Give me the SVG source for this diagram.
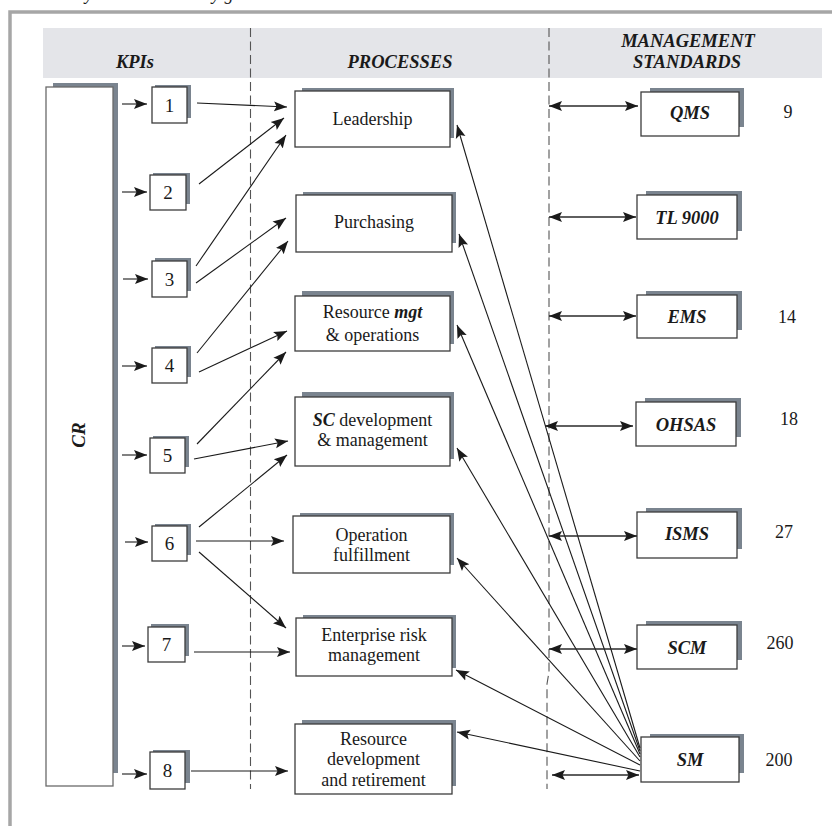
<svg xmlns="http://www.w3.org/2000/svg" width="832" height="826" viewBox="0 0 832 826">
  <style>
    .frame { fill: none; stroke: #a6a6a6; stroke-width: 3.5; }
    .band { fill: #e4e5e9; }
    .divider { fill: none; stroke: #555; stroke-width: 1.1; stroke-dasharray: 9 4.5; }
    .shadow { fill: #7a848f; }
    .box { fill: #fff; stroke: #3c3c3c; stroke-width: 1.3; }
    .crbox { fill: #fff; stroke: #6a6a6a; stroke-width: 1.3; }
    .hdr { font-family: "Liberation Serif", "Times New Roman", serif; font-size: 18.5px; font-weight: bold; font-style: italic; fill: #1a1a1a; text-anchor: middle; }
    .num { font-family: "Liberation Serif", "Times New Roman", serif; font-size: 19px; fill: #1a1a1a; text-anchor: middle; }
    .proc { font-family: "Liberation Serif", "Times New Roman", serif; font-size: 18px; fill: #1a1a1a; text-anchor: middle; }
    .std { font-family: "Liberation Serif", "Times New Roman", serif; font-size: 18.5px; font-weight: bold; font-style: italic; fill: #1a1a1a; text-anchor: middle; }
    .bi { font-weight: bold; font-style: italic; }
    .side { font-family: "Liberation Serif", "Times New Roman", serif; font-size: 18px; fill: #1a1a1a; text-anchor: middle; }
    .cap { font-family: "Liberation Serif", "Times New Roman", serif; font-size: 18px; font-style: italic; fill: #1a1a1a; }
    .link { fill: none; stroke: #1a1a1a; stroke-width: 1.1; marker-end: url(#ah); }
    .dbl { fill: none; stroke: #2a2a2a; stroke-width: 1.4; marker-start: url(#ah); marker-end: url(#ah); }
  </style>
  <defs>
    <marker id="ah" markerUnits="userSpaceOnUse" markerWidth="14" markerHeight="12" refX="13" refY="6" orient="auto-start-reverse">
      <path d="M0,1 L13,6 L0,11 L2.5,6 z" fill="#1a1a1a"/>
    </marker>
  </defs>

  <rect width="832" height="826" fill="#fff"/>
  <text class="cap" x="25" y="0">Summary: the model set by goals</text>
  <rect class="frame" x="10" y="12" width="840" height="840"/>

  <!-- column headings -->
  <g id="header">
    <rect class="band" x="43" y="28" width="779" height="50"/>
    <text class="hdr" x="135" y="68">KPIs</text>
    <text class="hdr" x="400" y="68">PROCESSES</text>
    <text class="hdr" x="688" y="47">MANAGEMENT</text>
    <text class="hdr" x="687" y="68">STANDARDS</text>
  </g>

  <g id="dividers">
    <path class="divider" d="M250.5,28 V789"/>
    <path class="divider" d="M549,28 V672 L547,684 V789"/>
  </g>

  <!-- corporate responsibility column -->
  <g id="cr">
    <rect class="shadow" x="53" y="83" width="65" height="690"/>
    <rect class="crbox" x="46" y="87" width="67" height="699"/>
    <text class="hdr" transform="translate(85,435) rotate(-90)" style="font-size:19px">CR</text>
  </g>

  <!-- KPI boxes -->
  <g id="kpi1"><rect class="shadow" x="155" y="85" width="36" height="33"/><rect class="box" x="152" y="87" width="35" height="36"/><text class="num" x="169.5" y="112">1</text></g>
  <g id="kpi2"><rect class="shadow" x="153" y="173" width="37" height="31"/><rect class="box" x="150" y="175" width="36" height="35"/><text class="num" x="168" y="199">2</text></g>
  <g id="kpi3"><rect class="shadow" x="155" y="258" width="36" height="33"/><rect class="box" x="152" y="261" width="35" height="36"/><text class="num" x="169.5" y="286">3</text></g>
  <g id="kpi4"><rect class="shadow" x="155" y="346" width="36" height="31"/><rect class="box" x="152" y="348" width="35" height="35"/><text class="num" x="169.5" y="372">4</text></g>
  <g id="kpi5"><rect class="shadow" x="153" y="436" width="36" height="31"/><rect class="box" x="150" y="438" width="35" height="35"/><text class="num" x="167.5" y="462">5</text></g>
  <g id="kpi6"><rect class="shadow" x="155" y="524" width="36" height="31"/><rect class="box" x="152" y="526" width="35" height="35"/><text class="num" x="169.5" y="550">6</text></g>
  <g id="kpi7"><rect class="shadow" x="151" y="624" width="38" height="32"/><rect class="box" x="148" y="627" width="37" height="35"/><text class="num" x="166.5" y="651">7</text></g>
  <g id="kpi8"><rect class="shadow" x="153" y="750" width="37" height="33"/><rect class="box" x="150" y="752" width="35" height="37"/><text class="num" x="167.5" y="777">8</text></g>

  <!-- process boxes -->
  <g id="leadership"><rect class="shadow" x="302" y="88" width="152" height="50"/><rect class="box" x="295" y="91" width="155" height="56"/><text class="proc" x="372.5" y="125">Leadership</text></g>
  <g id="purchasing"><rect class="shadow" x="303" y="192" width="153" height="51"/><rect class="box" x="296" y="195" width="156" height="57"/><text class="proc" x="374" y="228">Purchasing</text></g>
  <g id="resource-mgt"><rect class="shadow" x="302" y="291" width="152" height="53"/><rect class="box" x="295" y="296" width="155" height="55"/><text class="proc" x="372.5" y="318">Resource <tspan class="bi">mgt</tspan></text><text class="proc" x="372.5" y="341">&amp; operations</text></g>
  <g id="sc-dev"><rect class="shadow" x="302" y="392" width="152" height="67"/><rect class="box" x="295" y="397" width="155" height="69"/><text class="proc" x="372.5" y="426"><tspan class="bi">SC</tspan> development</text><text class="proc" x="372.5" y="446">&amp; management</text></g>
  <g id="operation"><rect class="shadow" x="300" y="513" width="154" height="52"/><rect class="box" x="293" y="516" width="157" height="57"/><text class="proc" x="371.5" y="541">Operation</text><text class="proc" x="371.5" y="561">fulfillment</text></g>
  <g id="enterprise-risk"><rect class="shadow" x="303" y="615" width="153" height="53"/><rect class="box" x="296" y="618" width="156" height="58"/><text class="proc" x="374" y="641">Enterprise risk</text><text class="proc" x="374" y="661">management</text></g>
  <g id="resource-dev"><rect class="shadow" x="302" y="720" width="154" height="66"/><rect class="box" x="295" y="724" width="157" height="70"/><text class="proc" x="373.5" y="745">Resource</text><text class="proc" x="373.5" y="765">development</text><text class="proc" x="373.5" y="786">and retirement</text></g>

  <!-- management standards -->
  <g id="qms"><rect class="shadow" x="650" y="88" width="94" height="39"/><rect class="box" x="641" y="92" width="98" height="44"/><text class="std" x="690" y="119">QMS</text><text class="side" x="788" y="118">9</text></g>
  <g id="tl9000"><rect class="shadow" x="646" y="191" width="96" height="40"/><rect class="box" x="637" y="195" width="100" height="44"/><text class="std" x="687" y="224">TL 9000</text></g>
  <g id="ems"><rect class="shadow" x="646" y="291" width="96" height="39"/><rect class="box" x="637" y="295" width="100" height="43"/><text class="std" x="687" y="323">EMS</text><text class="side" x="787" y="323">14</text></g>
  <g id="ohsas"><rect class="shadow" x="645" y="398" width="96" height="39"/><rect class="box" x="636" y="402" width="100" height="44"/><text class="std" x="686" y="431">OHSAS</text><text class="side" x="789" y="425">18</text></g>
  <g id="isms"><rect class="shadow" x="646" y="508" width="96" height="41"/><rect class="box" x="637" y="512" width="100" height="46"/><text class="std" x="687" y="540">ISMS</text><text class="side" x="784" y="538">27</text></g>
  <g id="scm"><rect class="shadow" x="646" y="621" width="96" height="39"/><rect class="box" x="637" y="625" width="100" height="44"/><text class="std" x="687" y="654">SCM</text><text class="side" x="780" y="649">260</text></g>
  <g id="sm"><rect class="shadow" x="650" y="734" width="94" height="39"/><rect class="box" x="641" y="737" width="98" height="45"/><text class="std" x="690" y="766">SM</text><text class="side" x="779" y="766">200</text></g>

  <g id="connectors">
    <!-- CR to KPIs -->
    <line class="link" x1="122" y1="104" x2="147" y2="104"/>
    <line class="link" x1="122" y1="192" x2="147" y2="192"/>
    <line class="link" x1="123" y1="279" x2="148" y2="279"/>
    <line class="link" x1="122" y1="366" x2="147" y2="366"/>
    <line class="link" x1="122" y1="455" x2="147" y2="455"/>
    <line class="link" x1="125" y1="542" x2="148" y2="542"/>
    <line class="link" x1="122" y1="646" x2="145" y2="646"/>
    <line class="link" x1="122" y1="774" x2="147" y2="774"/>

    <!-- KPIs to processes -->
    <line class="link" x1="197" y1="103" x2="287" y2="107"/>
    <line class="link" x1="199" y1="184" x2="284" y2="118"/>
    <line class="link" x1="196" y1="266" x2="286" y2="135"/>
    <line class="link" x1="196" y1="283" x2="286" y2="218"/>
    <line class="link" x1="197" y1="353" x2="288" y2="241"/>
    <line class="link" x1="199" y1="372" x2="287" y2="331"/>
    <line class="link" x1="197" y1="444" x2="286" y2="352"/>
    <line class="link" x1="194" y1="459" x2="288" y2="441"/>
    <line class="link" x1="199" y1="527" x2="287" y2="455"/>
    <line class="link" x1="196" y1="541" x2="284" y2="541"/>
    <line class="link" x1="199" y1="552" x2="286" y2="628"/>
    <line class="link" x1="194" y1="652" x2="290" y2="652"/>
    <line class="link" x1="191" y1="771" x2="288" y2="771"/>

    <!-- SM to processes -->
    <line class="link" x1="640" y1="748" x2="457" y2="125"/>
    <line class="link" x1="640" y1="751" x2="459" y2="234"/>
    <line class="link" x1="640" y1="754" x2="457" y2="325"/>
    <line class="link" x1="640" y1="757" x2="457" y2="448"/>
    <line class="link" x1="640" y1="761" x2="457" y2="558"/>
    <line class="link" x1="640" y1="765" x2="456" y2="670"/>
    <line class="link" x1="640" y1="771" x2="457" y2="732"/>

    <!-- processes to standards -->
    <line class="dbl" x1="549" y1="106" x2="638" y2="106"/>
    <line class="dbl" x1="549" y1="217" x2="636" y2="217"/>
    <line class="dbl" x1="549" y1="316" x2="636" y2="316"/>
    <line class="dbl" x1="545" y1="426" x2="633" y2="426"/>
    <line class="dbl" x1="549" y1="536" x2="637" y2="536"/>
    <line class="dbl" x1="549" y1="649" x2="637" y2="649"/>
    <line class="dbl" x1="552" y1="775" x2="639" y2="775"/>
  </g>
</svg>
